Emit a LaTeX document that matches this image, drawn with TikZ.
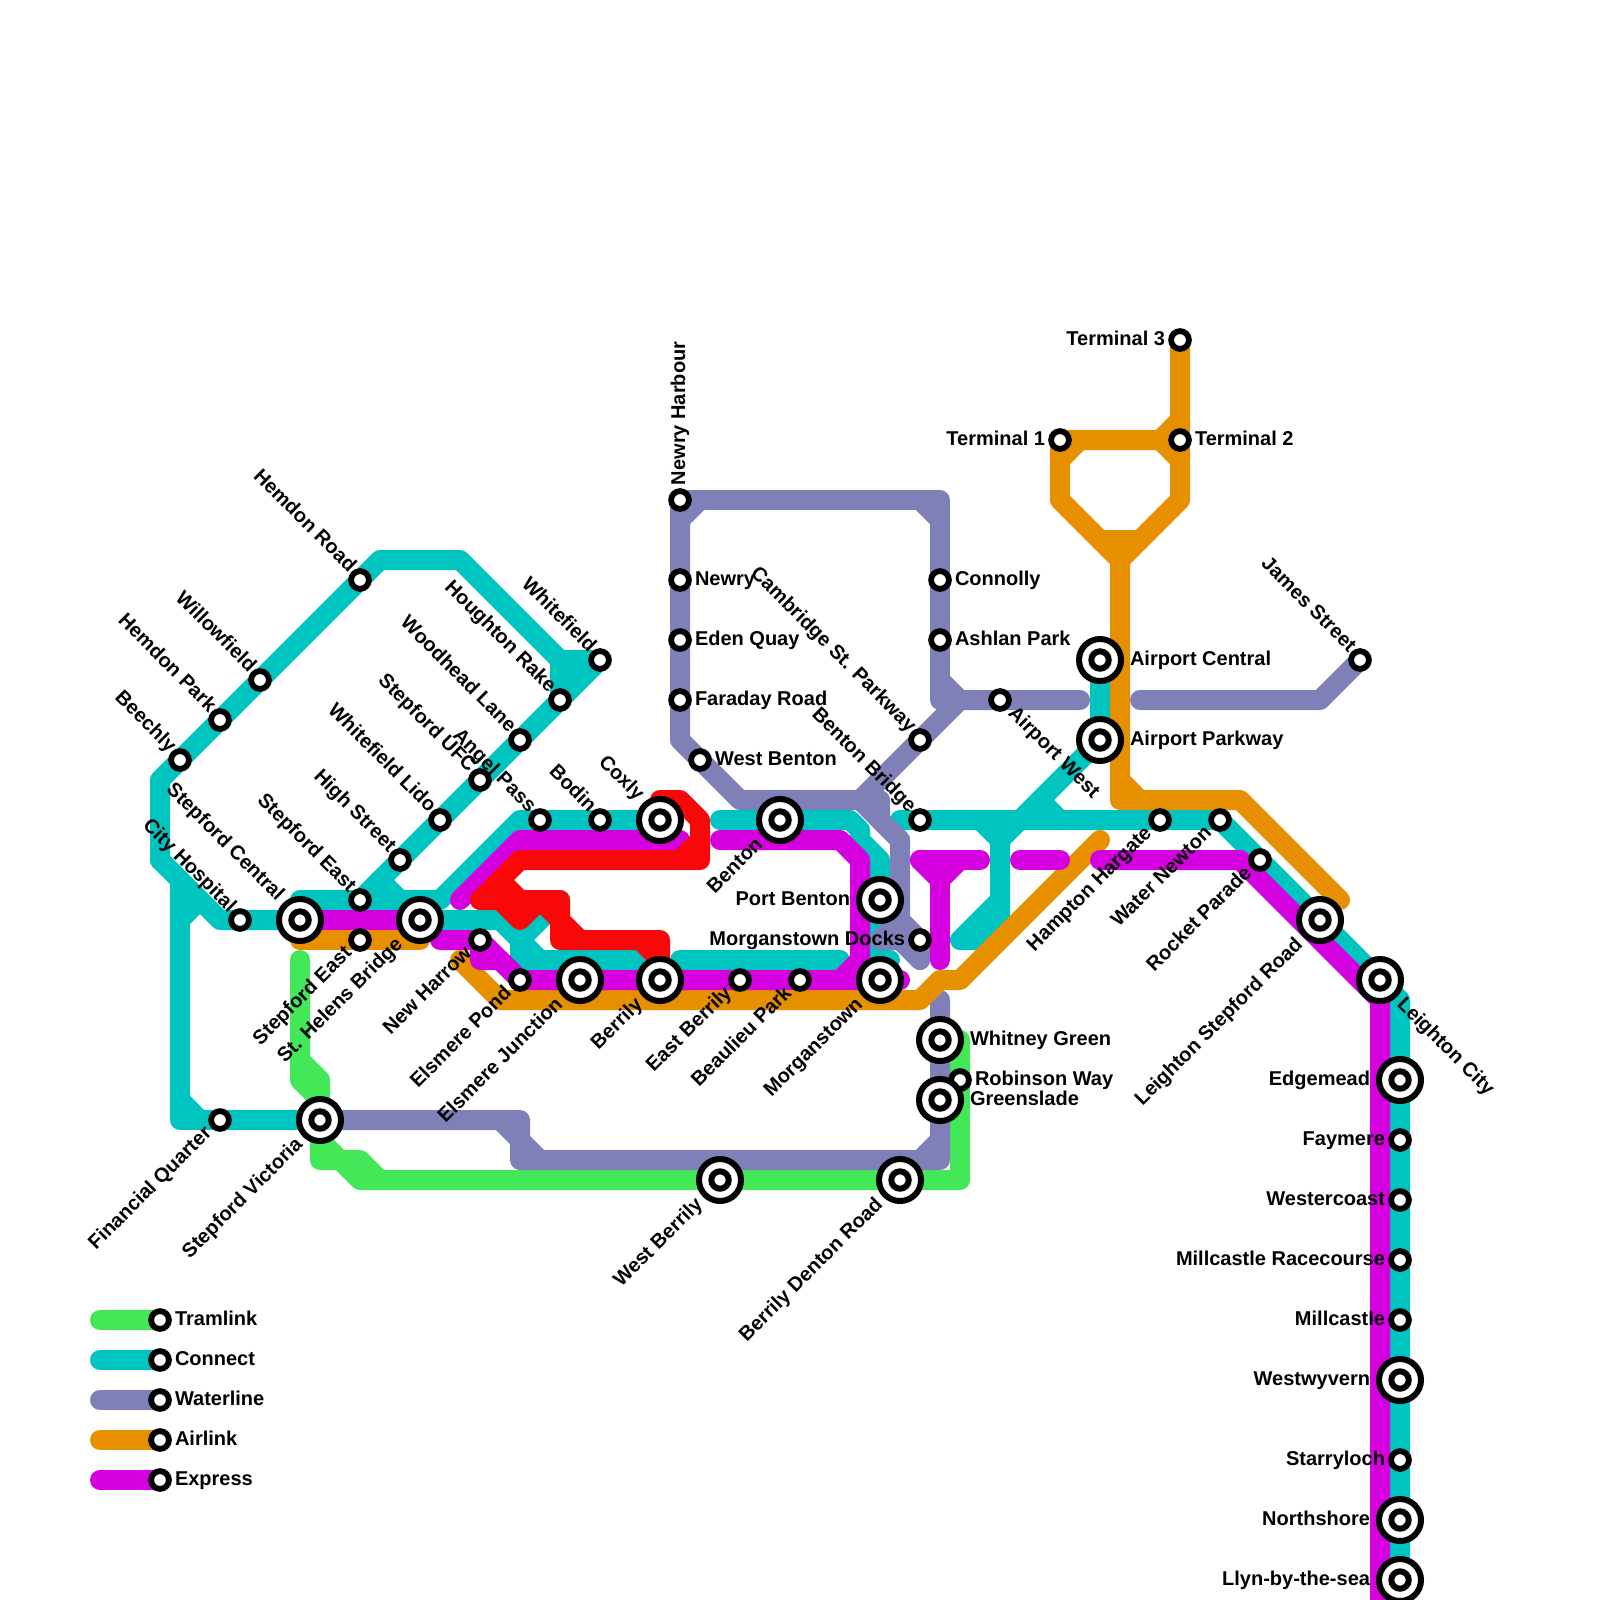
\documentclass[tikz,border=0pt]{standalone}
\usepackage{fontspec}
\setmainfont{Liberation Sans}[BoldFont={Liberation Sans Bold}]
\definecolor{cGreen}{HTML}{42E858}
\definecolor{cTeal}{HTML}{00C4C0}
\definecolor{cPurple}{HTML}{8080B8}
\definecolor{cOrange}{HTML}{E69000}
\definecolor{cMagenta}{HTML}{D400E0}
\definecolor{cRed}{HTML}{F80808}
\tikzset{
  route/.style={line width=20pt,line cap=round,line join=round,draw=#1},
  stS/.style={circle,draw=black,fill=white,line width=5.8pt,minimum size=17.8pt,inner sep=0pt,outer sep=0pt},
  stI/.style={circle,draw=black,fill=white,line width=6pt,minimum size=42pt,inner sep=0pt,outer sep=0pt},
  stC/.style={circle,draw=black,fill=white,line width=6pt,minimum size=17.4pt,inner sep=0pt,outer sep=0pt},
  lab/.style={inner sep=0pt,outer sep=0pt,text height=14.5pt,text depth=4.5pt,font=\bfseries\fontsize{20}{24}\selectfont,text=black},
  lNW/.style={lab,anchor=east,xshift=-8pt,yshift=10.6pt,rotate=-45},
  lNWi/.style={lab,anchor=east,xshift=-20pt,yshift=22pt,rotate=-45},
  lSW/.style={lab,anchor=east,xshift=-11pt,yshift=-10.6pt,rotate=45},
  lSWi/.style={lab,anchor=east,xshift=-20pt,yshift=-22pt,rotate=45},
  lSE/.style={lab,anchor=west,xshift=11pt,yshift=-10.6pt,rotate=-45},
  lSEi/.style={lab,anchor=west,xshift=20pt,yshift=-22pt,rotate=-45},
  lL/.style={lab,anchor=east,xshift=-#1pt},
  lR/.style={lab,anchor=west,xshift=#1pt},
  lU/.style={lab,anchor=west,rotate=90},
}
\newcommand\Sm[3]{\node[stS] (n#1) at (#1) {}; \node[#2] (t#1) at (#1) {#3};}
\newcommand\Ic[3]{\node[stI] (n#1) at (#1) {}; \node[stC] (c#1) at (#1) {}; \node[#2] (t#1) at (#1) {#3};}
\begin{document}
\begin{tikzpicture}[x=1pt,y=-1pt]
\useasboundingbox (0,0) rectangle (1600,1600);
\fill[white] (0,0) rectangle (1600,1600);
% station positions
\coordinate (beechly) at (180,760);
\coordinate (hemdonpark) at (220,720);
\coordinate (willowfield) at (260,680);
\coordinate (hemdonroad) at (360,580);
\coordinate (whitefield) at (600,660);
\coordinate (houghton) at (560,700);
\coordinate (woodhead) at (520,740);
\coordinate (ufc) at (480,780);
\coordinate (lido) at (440,820);
\coordinate (high) at (400,860);
\coordinate (eastA) at (360,900);
\coordinate (eastB) at (360,940);
\coordinate (central) at (300,920);
\coordinate (helens) at (420,920);
\coordinate (city) at (240,920);
\coordinate (harrow) at (480,940);
\coordinate (pond) at (520,980);
\coordinate (junction) at (580,980);
\coordinate (berrily) at (660,980);
\coordinate (eastberrily) at (740,980);
\coordinate (beaulieu) at (800,980);
\coordinate (morgan) at (880,980);
\coordinate (docks) at (920,940);
\coordinate (port) at (880,900);
\coordinate (benton) at (780,820);
\coordinate (coxly) at (660,820);
\coordinate (bodin) at (600,820);
\coordinate (angel) at (540,820);
\coordinate (bridge) at (920,820);
\coordinate (cambridge) at (920,740);
\coordinate (harbour) at (680,500);
\coordinate (newry) at (680,580);
\coordinate (eden) at (680,640);
\coordinate (faraday) at (680,700);
\coordinate (westbenton) at (700,760);
\coordinate (connolly) at (940,580);
\coordinate (ashlan) at (940,640);
\coordinate (airwest) at (1000,700);
\coordinate (aircentral) at (1100,660);
\coordinate (airparkway) at (1100,740);
\coordinate (termA) at (1060,440);
\coordinate (termB) at (1180,440);
\coordinate (termC) at (1180,340);
\coordinate (james) at (1360,660);
\coordinate (hampton) at (1160,820);
\coordinate (water) at (1220,820);
\coordinate (rocket) at (1260,860);
\coordinate (lstepford) at (1320,920);
\coordinate (lcity) at (1380,980);
\coordinate (edgemead) at (1400,1080);
\coordinate (faymere) at (1400,1140);
\coordinate (westercoast) at (1400,1200);
\coordinate (racecourse) at (1400,1260);
\coordinate (millcastle) at (1400,1320);
\coordinate (westwyvern) at (1400,1380);
\coordinate (starryloch) at (1400,1460);
\coordinate (northshore) at (1400,1520);
\coordinate (llyn) at (1400,1580);
\coordinate (whitney) at (940,1040);
\coordinate (greenslade) at (940,1100);
\coordinate (robinson) at (960,1080);
\coordinate (victoria) at (320,1120);
\coordinate (financial) at (220,1120);
\coordinate (westberrily) at (720,1180);
\coordinate (denton) at (900,1180);
\coordinate (kA) at (160,1320);
\coordinate (kB) at (160,1360);
\coordinate (kC) at (160,1400);
\coordinate (kD) at (160,1440);
\coordinate (kE) at (160,1480);
% Tramlink
\draw[route=cGreen] (300,960) -- (300,1080) -- (320,1100) -- (victoria);
\draw[route=cGreen] (300,1060) -- (320,1080) -- (victoria);
\draw[route=cGreen] (victoria) -- (320,1160) -- (340,1160) -- (360,1180) -- (westberrily) -- (denton) -- (960,1180) -- (whitney -| robinson);
\draw[route=cGreen] (320,1140) -- (340,1160) -- (360,1160) -- (380,1180);
% Connect
\draw[route=cTeal] (160,860) -- (160,780) -- (beechly) -- (hemdonroad) -- (380,560) -- (460,560) -- (560,660) -- (houghton);
\draw[route=cTeal] (560,660) -- (whitefield) -- (eastA);
\draw[route=cTeal] (560,680) -- (580,660);
\draw[route=cTeal] (380,880) -- (400,900);
\draw[route=cTeal] (160,860) -- (220,920) -- (central);
\draw[route=cTeal] (180,880) -- (180,1120) -- (victoria);
\draw[route=cTeal] (180,1100) -- (200,1120);
\draw[route=cTeal] (180,920) -- (200,900);
\draw[route=cTeal] (central) -- (300,900) -- (440,900) -- (520,820) -- (coxly) -- (670,820);
\draw[route=cTeal] (helens) -- (500,920) -- (520,940) -- (520,960) -- (640,960) -- (berrily);
\draw[route=cTeal] (520,940) -- (540,960);
\draw[route=cTeal] (520,940) -- (560,900);
\draw[route=cTeal] (680,960) -- (840,960);
\draw[route=cTeal] (720,820) -- (850,820) -- (860,830) -- (860,840) -- (880,860) -- (morgan);
\draw[route=cTeal] (880,960) -- (890,960);
\draw[route=cTeal] (900,820) -- (water) -- (1400,1000) -- (llyn) -- (1400,1600);
\draw[route=cTeal] (aircentral) -- (airparkway) -- (1020,820);
\draw[route=cTeal] (1040,800) -- (1060,820);
\draw[route=cTeal] (980,820) -- (1000,840) -- (1020,820);
\draw[route=cTeal] (1000,820) -- (1000,920) -- (980,940) -- (960,940) -- (1000,900);
% Waterline
\draw[route=cPurple] (victoria) -- (500,1120) -- (520,1140) -- (520,1160) -- (920,1160) -- (940,1160) -- (940,1000);
\draw[route=cPurple] (500,1120) -- (520,1120) -- (520,1140) -- (540,1160);
\draw[route=cPurple] (920,1160) -- (940,1140);
\draw[route=cPurple] (harbour) -- (940,500) -- (940,700);
\draw[route=cPurple] (680,520) -- (700,500);
\draw[route=cPurple] (920,500) -- (940,520);
\draw[route=cPurple] (harbour) -- (680,740) -- (740,800) -- (880,800) -- (880,820) -- (900,840) -- (900,920) -- (920,940) -- (920,960);
\draw[route=cPurple] (860,800) -- (900,840);
\draw[route=cPurple] (900,920) -- (880,940) -- (900,940) -- (920,960);
\draw[route=cPurple] (960,700) -- (860,800);
\draw[route=cPurple] (940,680) -- (960,700) -- (1080,700);
\draw[route=cPurple] (1140,700) -- (1320,700) -- (james);
% Airlink
\draw[route=cOrange] (300,940) -- (420,940);
\draw[route=cOrange] (460,960) -- (500,1000) -- (920,1000) -- (940,980) -- (960,980) -- (1100,840);
\draw[route=cOrange] (termC) -- (1180,500) -- (1120,560) -- (1060,500) -- (termA) -- (termB);
\draw[route=cOrange] (1160,440) -- (1180,420);
\draw[route=cOrange] (1160,440) -- (1180,460);
\draw[route=cOrange] (1060,460) -- (1080,440);
\draw[route=cOrange] (1100,540) -- (1140,540);
\draw[route=cOrange] (1120,560) -- (1120,800) -- (1240,800) -- (1340,900);
\draw[route=cOrange] (1120,780) -- (1140,800);
% Express
\draw[route=cMagenta] (central) -- (helens);
\draw[route=cMagenta] (440,940) -- (480,940) -- (520,980) -- (900,980);
\draw[route=cMagenta] (480,940) -- (480,960) -- (500,960) -- (520,980);
\draw[route=cMagenta] (460,900) -- (520,840) -- (680,840) -- (660,860);
\draw[route=cMagenta] (720,840) -- (840,840) -- (860,860) -- (860,960) -- (840,980);
\draw[route=cMagenta] (920,860) -- (980,860);
\draw[route=cMagenta] (920,860) -- (940,880) -- (960,860);
\draw[route=cMagenta] (940,880) -- (940,960);
\draw[route=cMagenta] (1020,860) -- (1060,860);
\draw[route=cMagenta] (1100,860) -- (1240,860) -- (1380,1000) -- (1380,1600);
% unnamed red line
\draw[route=cRed] (660,820) -- (660,800) -- (680,800) -- (700,820) -- (700,860) -- (520,860) -- (480,900) -- (560,900) -- (560,940) -- (640,940) -- (660,960) -- (660,940) -- (640,940);
\draw[route=cRed] (680,860) -- (700,840);
\draw[route=cRed] (500,880) -- (520,900);
\draw[route=cRed] (500,900) -- (520,920) -- (540,900) -- (560,920) -- (580,940);
% key lines
\draw[route=cGreen] (100,1320) -- (kA);
\draw[route=cTeal] (100,1360) -- (kB);
\draw[route=cPurple] (100,1400) -- (kC);
\draw[route=cOrange] (100,1440) -- (kD);
\draw[route=cMagenta] (100,1480) -- (kE);
% stations and labels
\Sm{beechly}{lNW}{Beechly}
\Sm{hemdonpark}{lNW}{Hemdon Park}
\Sm{willowfield}{lNW}{Willowfield}
\Sm{hemdonroad}{lNW}{Hemdon Road}
\Sm{whitefield}{lNW}{Whitefield}
\Sm{houghton}{lNW}{Houghton Rake}
\Sm{woodhead}{lNW}{Woodhead Lane}
\Sm{ufc}{lNW}{Stepford UFC}
\Sm{lido}{lNW}{Whitefield Lido}
\Sm{high}{lNW}{High Street}
\Sm{eastA}{lNW}{Stepford East}
\Sm{city}{lNW}{City Hospital}
\Sm{angel}{lNW}{Angel Pass}
\Sm{bodin}{lNW}{Bodin}
\Sm{cambridge}{lNW}{Cambridge St. Parkway}
\Sm{bridge}{lNW}{Benton Bridge}
\Sm{james}{lNW}{James Street}
\Ic{central}{lNWi}{Stepford Central}
\Ic{coxly}{lNWi}{Coxly}
\Sm{eastB}{lSW}{Stepford East}
\Sm{harrow}{lSW}{New Harrow}
\Sm{pond}{lSW}{Elsmere Pond}
\Sm{eastberrily}{lSW}{East Berrily}
\Sm{beaulieu}{lSW}{Beaulieu Park}
\Sm{hampton}{lSW}{Hampton Hargate}
\Sm{water}{lSW}{Water Newton}
\Sm{rocket}{lSW}{Rocket Parade}
\Sm{financial}{lSW}{Financial Quarter}
\Ic{helens}{lSWi}{St. Helens Bridge}
\Ic{junction}{lSWi}{Elsmere Junction}
\Ic{berrily}{lSWi}{Berrily}
\Ic{morgan}{lSWi}{Morganstown}
\Ic{benton}{lSWi}{Benton}
\Ic{lstepford}{lSWi}{Leighton Stepford Road}
\Ic{victoria}{lSWi}{Stepford Victoria}
\Ic{westberrily}{lSWi}{West Berrily}
\Ic{denton}{lSWi}{Berrily Denton Road}
\Sm{airwest}{lSE}{Airport West}
\Ic{lcity}{lSEi}{Leighton City}
\Ic{port}{lL=30}{Port Benton}
\Sm{docks}{lL=15}{Morganstown Docks}
\Sm{termA}{lL=15}{Terminal 1}
\Sm{termC}{lL=15}{Terminal 3}
\Ic{edgemead}{lL=30}{Edgemead}
\Sm{faymere}{lL=15}{Faymere}
\Sm{westercoast}{lL=15}{Westercoast}
\Sm{racecourse}{lL=15}{Millcastle Racecourse}
\Sm{millcastle}{lL=15}{Millcastle}
\Ic{westwyvern}{lL=30}{Westwyvern}
\Sm{starryloch}{lL=15}{Starryloch}
\Ic{northshore}{lL=30}{Northshore}
\Ic{llyn}{lL=30}{Llyn-by-the-sea}
\Sm{newry}{lR=15}{Newry}
\Sm{eden}{lR=15}{Eden Quay}
\Sm{faraday}{lR=15}{Faraday Road}
\Sm{westbenton}{lR=15}{West Benton}
\Sm{connolly}{lR=15}{Connolly}
\Sm{ashlan}{lR=15}{Ashlan Park}
\Sm{termB}{lR=15}{Terminal 2}
\Sm{robinson}{lR=15}{Robinson Way}
\Ic{aircentral}{lR=30}{Airport Central}
\Ic{airparkway}{lR=30}{Airport Parkway}
\Ic{whitney}{lR=30}{Whitney Green}
\Ic{greenslade}{lR=30}{Greenslade}
\node[stS] (nharbour) at (harbour) {};
\node[lU] (tharbour) at ([yshift=15pt]harbour) {Newry Harbour};
\Sm{kA}{lR=15}{Tramlink}
\Sm{kB}{lR=15}{Connect}
\Sm{kC}{lR=15}{Waterline}
\Sm{kD}{lR=15}{Airlink}
\Sm{kE}{lR=15}{Express}
\end{tikzpicture}
\end{document}
